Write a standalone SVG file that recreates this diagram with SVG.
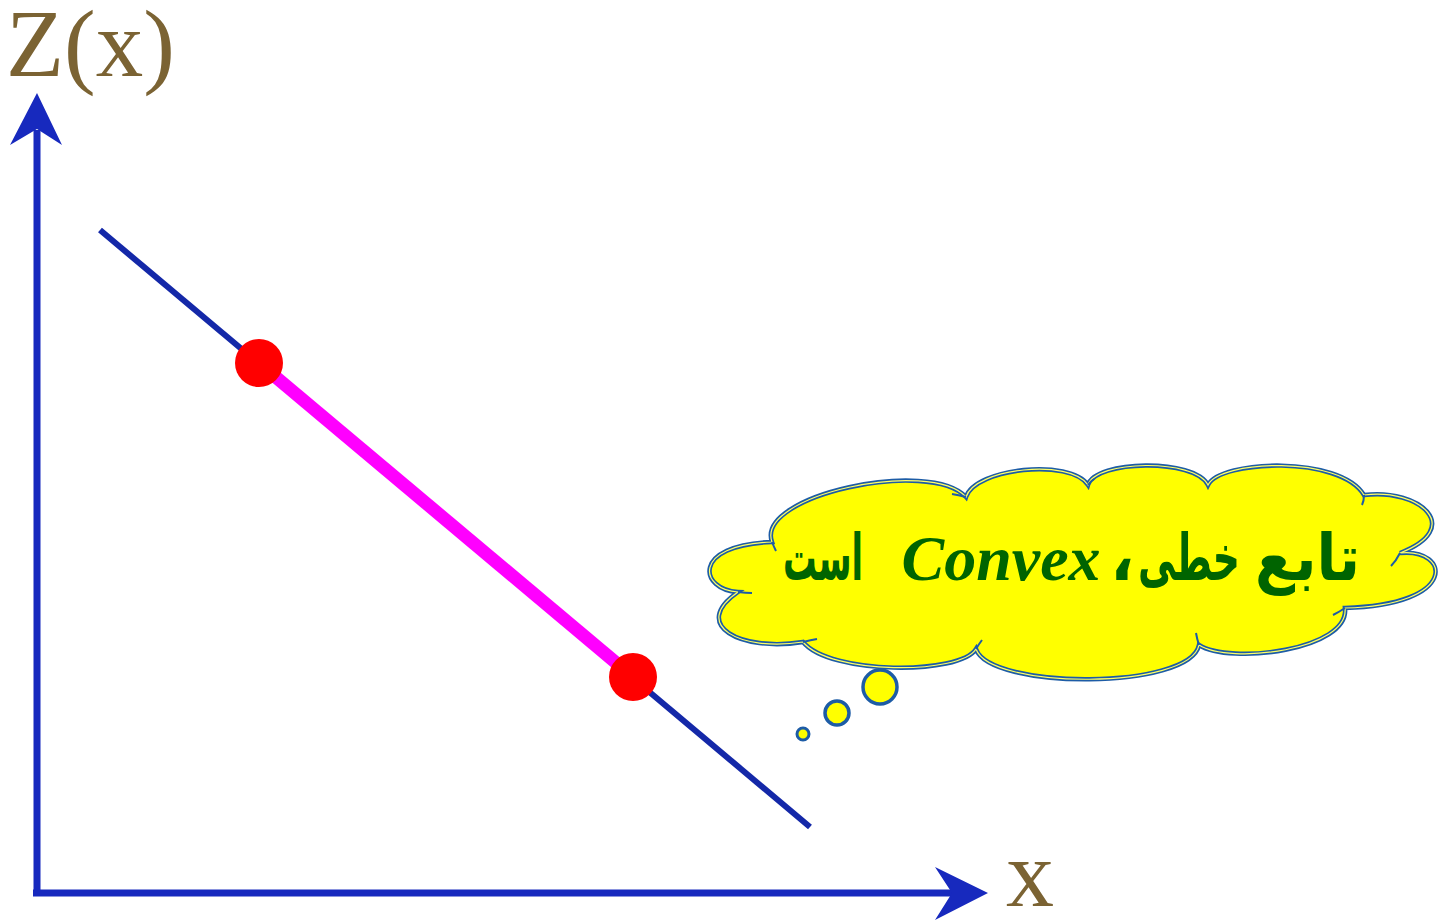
<svg xmlns="http://www.w3.org/2000/svg" width="1450" height="923" viewBox="0 0 1450 923">
<style>
.axis{stroke:#1729BE;stroke-width:7;fill:none}
.head{fill:#1729BE}
.lbl{font-family:"Liberation Serif","Times New Roman",serif;fill:#7B6333}
.cloudA{fill:#FFFF00;stroke:#1D5CA6;stroke-width:4.5}
.cloudB{fill:none;stroke:#FFFF66;stroke-width:1.2}
.txt{font-family:"Liberation Serif","DejaVu Sans",serif;font-weight:bold;fill:#006400;font-size:64px}
</style>
<rect width="1450" height="923" fill="#ffffff"/>
<g id="axes">
<path class="axis" d="M37,896 V130 M33,893 H955"/>
<path class="head" d="M37,93 L62,145 L37,129 L10,145 Z"/>
<path class="head" d="M988,893 L935,920 L952,893 L935,867 Z"/>
</g>
<g id="label-z"><text class="lbl" x="6" y="76" font-size="95">Z(x)</text></g>
<g id="label-x"><text class="lbl" x="1006" y="906" font-size="96">x</text></g>
<g id="connectors">
<line x1="100" y1="230" x2="810" y2="827" stroke="#1428A8" stroke-width="6"/>
<line x1="259" y1="363" x2="633" y2="677" stroke="#FF00FF" stroke-width="13"/>
</g>
<g id="point1"><circle cx="259" cy="363" r="24" fill="#FF0000"/></g>
<g id="point2"><circle cx="633" cy="677" r="24" fill="#FF0000"/></g>
<g id="cloud">
<path class="cloudA" d="M772,542 C755,495 930,458 966,497 C975,468 1070,458 1088,485 C1095,460 1195,458 1208,485 C1220,460 1340,455 1364,495 C1420,488 1465,528 1400,553 C1450,548 1460,605 1345,608 C1350,650 1230,665 1199,645 C1190,690 990,690 976,649 C960,675 830,675 803,642 C740,652 690,625 738,592 C700,590 690,545 772,542 Z"/>
<path class="cloudB" d="M772,542 C755,495 930,458 966,497 C975,468 1070,458 1088,485 C1095,460 1195,458 1208,485 C1220,460 1340,455 1364,495 C1420,488 1465,528 1400,553 C1450,548 1460,605 1345,608 C1350,650 1230,665 1199,645 C1190,690 990,690 976,649 C960,675 830,675 803,642 C740,652 690,625 738,592 C700,590 690,545 772,542 Z"/>
<path fill="none" stroke="#1D5CA6" stroke-width="2" d="M772,542 q2,5 4,9 M966,497 q-8,-2 -14,-3 M1088,485 q3,-4 6,-6 M1364,495 q0,6 -2,10 M1400,553 q-4,8 -9,13 M1345,608 q-6,4 -12,7 M1199,645 q-2,-6 -3,-12 M976,649 q3,-5 6,-9 M803,642 q8,-2 14,-3 M738,592 q8,1 14,1"/>
<text class="txt" x="1255" y="580" textLength="105" lengthAdjust="spacingAndGlyphs">تابع</text>
<text class="txt" x="1138" y="580" textLength="102" lengthAdjust="spacingAndGlyphs">خطی</text>
<text class="txt" x="1110" y="580">،</text>
<text class="txt" x="1001" y="580" text-anchor="middle" font-style="italic" font-size="68">Convex</text>
<text class="txt" x="783" y="580" textLength="80" lengthAdjust="spacingAndGlyphs">است</text>
</g>
<g id="bubbles">
<circle cx="880" cy="687" r="17" fill="#FFFF00" stroke="#1D5CA6" stroke-width="3.5"/>
<circle cx="837" cy="713" r="12" fill="#FFFF00" stroke="#1D5CA6" stroke-width="3.5"/>
<circle cx="803" cy="734" r="6" fill="#FFFF00" stroke="#1D5CA6" stroke-width="3"/>
</g>
</svg>
